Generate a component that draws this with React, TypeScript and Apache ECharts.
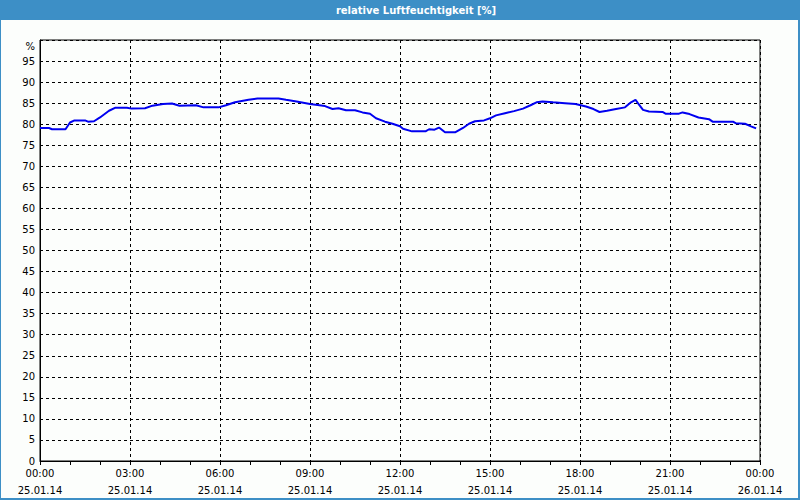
import React, { useEffect, useRef } from "react";
import * as echarts from "echarts";

const title = "relative Luftfeuchtigkeit [%]";
const hours = [
  0, 0.3, 0.4, 0.85, 1.0, 1.15, 1.5, 1.6, 1.8, 2.0, 2.3, 2.5, 2.9, 3.05, 3.5, 3.75, 4.1, 4.4, 4.65, 5.2,
  5.45, 5.95, 6.2, 6.5, 6.95, 7.25, 7.95, 8.2, 8.55, 9.0, 9.5, 9.75, 9.95, 10.2, 10.5, 10.75, 11.0, 11.2,
  11.5, 11.75, 12.0, 12.1, 12.4, 12.85, 12.97, 13.15, 13.3, 13.5, 13.85, 14.1, 14.3, 14.5, 14.8, 15.0,
  15.2, 15.5, 15.8, 16.1, 16.35, 16.55, 16.75, 17.1, 17.5, 17.85, 18.2, 18.45, 18.65, 18.9, 19.2, 19.5,
  19.7, 19.85, 19.93, 20.1, 20.3, 20.75, 20.85, 21.3, 21.42, 21.65, 21.95, 22.3, 22.42, 23.1, 23.2, 23.5,
  23.7, 23.87,
];
const humidity = [
  79.1, 79.1, 78.8, 78.8, 80.4, 80.9, 80.9, 80.6, 80.7, 81.6, 83.2, 83.9, 83.9, 83.7, 83.8, 84.4, 84.8,
  84.9, 84.4, 84.5, 84.0, 84.0, 84.5, 85.2, 85.8, 86.1, 86.1, 85.8, 85.4, 84.8, 84.3, 83.6, 83.8, 83.3,
  83.3, 82.8, 82.5, 81.4, 80.6, 80.1, 79.5, 78.9, 78.3, 78.3, 78.8, 78.7, 79.2, 78.1, 78.1, 79.1, 80.1,
  80.7, 80.9, 81.4, 82.1, 82.6, 83.1, 83.7, 84.5, 85.2, 85.4, 85.2, 85.0, 84.8, 84.2, 83.6, 82.9, 83.2,
  83.6, 84.0, 85.2, 85.8, 85.0, 83.4, 83.0, 82.9, 82.5, 82.5, 82.8, 82.4, 81.6, 81.2, 80.6, 80.6, 80.2,
  80.1, 79.5, 79.0,
];
const tickTimes = ["00:00", "03:00", "06:00", "09:00", "12:00", "15:00", "18:00", "21:00", "00:00"];
const tickDates = ["25.01.14", "25.01.14", "25.01.14", "25.01.14", "25.01.14", "25.01.14", "25.01.14", "25.01.14", "26.01.14"];
const yUnit = "%";

const FONT = "DejaVu Sans";

export default function App() {
  const ref = useRef<HTMLDivElement>(null);
  useEffect(() => {
    if (!ref.current) return;
    const chart = echarts.init(ref.current, null, { renderer: "svg" });
    const data = hours.map((h, i) => [h, humidity[i]]);
    chart.setOption({
      animation: false,
      backgroundColor: "#fcfefc",
      graphic: [
        { type: "rect", shape: { x: 0, y: 0, width: 800, height: 20 }, style: { fill: "#3d8fc6" }, silent: true },
        { type: "rect", shape: { x: 0, y: 0, width: 1, height: 500 }, style: { fill: "#3d8fc6" }, silent: true },
        { type: "rect", shape: { x: 798, y: 0, width: 2, height: 500 }, style: { fill: "#3d8fc6" }, silent: true },
        { type: "rect", shape: { x: 0, y: 498, width: 800, height: 2 }, style: { fill: "#3d8fc6" }, silent: true },
        {
          type: "text",
          x: 416,
          y: 10,
          style: {
            text: title,
            fill: "#ffffff",
            font: `bold 10px "${FONT}"`,
            textAlign: "center",
            textVerticalAlign: "middle",
          },
          silent: true,
        },
        {
          type: "text",
          x: 35,
          y: 46,
          style: {
            text: yUnit,
            fill: "#000000",
            font: `10px "${FONT}"`,
            textAlign: "right",
            textVerticalAlign: "middle",
          },
          silent: true,
        },
      ],
      grid: { left: 40, right: 40, top: 40, bottom: 39, show: true, borderColor: "#000", borderWidth: 1, backgroundColor: "transparent" },
      xAxis: {
        type: "value",
        min: 0,
        max: 24,
        interval: 3,
        axisLine: { show: true, lineStyle: { color: "#000", width: 1 } },
        axisTick: { show: true, length: 4, lineStyle: { color: "#000" } },
        minorTick: { show: true, splitNumber: 3, length: 4, lineStyle: { color: "#000" } },
        splitLine: { show: true, lineStyle: { color: "#000", type: [3, 3], width: 1 } },
        axisLabel: {
          color: "#000",
          fontFamily: FONT,
          fontSize: 10,
          lineHeight: 17,
          margin: 4,
          formatter: (v: number) => {
            const i = Math.round(v / 3);
            return `${tickTimes[i]}\n${tickDates[i]}`;
          },
        },
      },
      yAxis: {
        type: "value",
        min: 0,
        max: 100,
        interval: 5,
        axisLine: { show: true, lineStyle: { color: "#000", width: 1 } },
        axisTick: { show: false },
        splitLine: { show: true, lineStyle: { color: "#000", type: [3, 3], width: 1 } },
        axisLabel: {
          color: "#000",
          fontFamily: FONT,
          fontSize: 10,
          margin: 5,
          formatter: (v: number) => (v >= 100 ? "" : String(v)),
        },
      },
      series: [
        {
          type: "line",
          data,
          showSymbol: false,
          lineStyle: { color: "#0000f0", width: 2 },
          smooth: false,
        },
      ],
    });
    return () => chart.dispose();
  }, []);
  return <div ref={ref} style={{ position: "fixed", left: 0, top: 0, width: 800, height: 500 }} />;
}
